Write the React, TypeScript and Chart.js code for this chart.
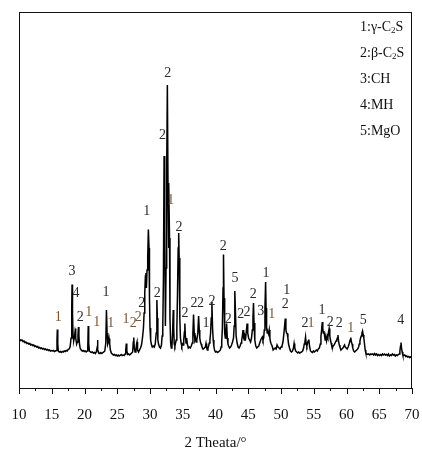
import { useEffect, useRef } from "react";
import { Chart, registerables } from "chart.js";

Chart.register(...registerables);

// 2θ (degrees) vs. intensity (arbitrary units)
const band10to14: [number, number][] = [
  [10.0, 49], [10.15, 48], [10.3, 47.5], [10.45, 48], [10.6, 46.5], [10.75, 47], [10.9, 45.5], [11.05, 46],
  [11.2, 44.5], [11.35, 45], [11.5, 44], [11.65, 44.5], [11.8, 43], [11.95, 43.5], [12.1, 42.5], [12.25, 43],
  [12.4, 41.5], [12.55, 42], [12.7, 41], [12.85, 41.5], [13.0, 40], [13.15, 40.5], [13.3, 39.5], [13.45, 40],
  [13.6, 39], [13.75, 39.5], [13.9, 38.5],
];
const band14to18: [number, number][] = [
  [14.05, 39], [14.2, 38], [14.35, 38.5], [14.5, 37.5], [14.65, 38], [14.8, 37], [14.95, 37.5], [15.1, 37],
  [15.25, 37.5], [15.4, 36.5], [15.55, 37], [15.7, 37.5], [15.8, 48], [15.85, 58.5], [15.92, 44], [16.0, 37],
  [16.15, 36], [16.3, 36.5], [16.45, 35.5], [16.6, 36.5], [16.75, 36], [16.9, 37], [17.05, 36.5], [17.2, 37.5],
  [17.35, 37], [17.5, 38.5], [17.65, 39], [17.8, 41], [17.95, 50],
];
const band18to22: [number, number][] = [
  [18.05, 80], [18.1, 103.5], [18.17, 75], [18.25, 52], [18.35, 47], [18.45, 50], [18.55, 56], [18.62, 59.5],
  [18.7, 50], [18.8, 44], [18.9, 46], [19.0, 52], [19.08, 61], [19.15, 52], [19.25, 43], [19.35, 39.5],
  [19.5, 38], [19.65, 37], [19.8, 37.5], [19.95, 36.5], [20.1, 37], [20.25, 36], [20.4, 37], [20.5, 40],
  [20.57, 62], [20.64, 45], [20.75, 37], [20.9, 36], [21.05, 35.5], [21.2, 36], [21.35, 35], [21.5, 35.5],
  [21.65, 34.5], [21.8, 36], [21.92, 40],
];
const band22to26: [number, number][] = [
  [21.98, 48], [22.05, 38], [22.2, 35], [22.35, 34.5], [22.5, 35.5], [22.65, 34.5], [22.8, 35.5], [22.95, 36],
  [23.1, 37], [23.25, 45], [23.35, 78], [23.45, 55], [23.55, 44], [23.65, 46], [23.75, 49.5], [23.85, 44],
  [23.95, 38], [24.1, 35], [24.25, 34], [24.4, 33], [24.55, 33.5], [24.7, 32.5], [24.85, 33], [25.0, 32],
  [25.15, 33], [25.3, 32], [25.45, 32.5], [25.6, 33.5], [25.75, 32.5], [25.9, 33],
];
const band26to30: [number, number][] = [
  [26.05, 32.5], [26.2, 34], [26.3, 38], [26.38, 44.5], [26.46, 37], [26.6, 33.5], [26.75, 34], [26.9, 33],
  [27.05, 34], [27.2, 35], [27.35, 36], [27.45, 46], [27.52, 50.5], [27.6, 40], [27.72, 36], [27.85, 38],
  [27.95, 44], [28.02, 46], [28.1, 38], [28.25, 36], [28.4, 38], [28.55, 40], [28.7, 43], [28.85, 50],
  [29.0, 60], [29.1, 75], [29.2, 95], [29.3, 112], [29.38, 115], [29.45, 100], [29.55, 118], [29.65, 130],
  [29.75, 158.5], [29.85, 140], [29.92, 90],
];
const band30to34: [number, number][] = [
  [30.0, 60], [30.1, 48], [30.2, 44], [30.35, 41], [30.5, 42], [30.65, 41], [30.8, 44], [30.95, 55],
  [31.05, 88], [31.12, 70], [31.2, 48], [31.3, 44], [31.45, 41], [31.6, 40], [31.75, 43], [31.85, 52],
  [31.95, 60], [32.05, 110], [32.15, 232], [32.25, 160], [32.35, 62], [32.45, 120], [32.55, 220], [32.65, 303],
  [32.75, 200], [32.82, 140], [32.9, 205], [32.98, 150], [33.05, 70], [33.15, 45], [33.25, 40], [33.35, 42],
  [33.45, 55], [33.55, 78], [33.62, 60], [33.7, 44], [33.8, 42], [33.9, 45],
];
const band34to38: [number, number][] = [
  [34.0, 48], [34.1, 60], [34.2, 95], [34.3, 140], [34.38, 155], [34.45, 130], [34.55, 70], [34.65, 50],
  [34.75, 45], [34.85, 42], [34.95, 44], [35.05, 43], [35.15, 48], [35.25, 56], [35.32, 64.5], [35.4, 52],
  [35.5, 45], [35.6, 50], [35.7, 44], [35.85, 40], [36.0, 41], [36.15, 40], [36.3, 42], [36.45, 45],
  [36.55, 55], [36.65, 73.5], [36.75, 55], [36.85, 48], [36.95, 50], [37.05, 46], [37.15, 48], [37.3, 55],
  [37.42, 72], [37.52, 58], [37.6, 50], [37.7, 46], [37.8, 44], [37.9, 42],
];
const band38to42: [number, number][] = [
  [38.0, 40], [38.15, 39], [38.3, 40], [38.45, 41], [38.55, 44.5], [38.65, 40], [38.75, 38], [38.85, 40],
  [38.95, 42], [39.05, 45], [39.15, 48], [39.25, 55], [39.35, 70], [39.45, 86], [39.55, 60], [39.65, 48],
  [39.75, 42], [39.85, 38], [40.0, 36], [40.15, 36.5], [40.3, 35.5], [40.45, 36], [40.6, 37], [40.75, 38],
  [40.85, 41], [40.95, 46], [41.05, 60], [41.15, 100], [41.22, 133.5], [41.3, 90], [41.4, 55], [41.5, 50],
  [41.6, 56], [41.7, 64.5], [41.8, 50], [41.9, 44],
];
const band42to46: [number, number][] = [
  [42.0, 42], [42.15, 40], [42.3, 41], [42.45, 43], [42.6, 46], [42.75, 50], [42.85, 62], [42.95, 97],
  [43.05, 75], [43.15, 52], [43.3, 45], [43.45, 41], [43.6, 40], [43.75, 42], [43.9, 45], [44.0, 48],
  [44.1, 52], [44.2, 58], [44.3, 50], [44.4, 48], [44.5, 52], [44.6, 50], [44.7, 56], [44.82, 64.5],
  [44.92, 55], [45.05, 50], [45.2, 48], [45.35, 46], [45.5, 50], [45.62, 58], [45.72, 70], [45.8, 85],
  [45.88, 65],
];
const band46to50: [number, number][] = [
  [46.0, 48], [46.15, 42], [46.3, 40], [46.45, 41], [46.6, 42], [46.75, 45], [46.9, 48], [47.05, 50],
  [47.15, 51], [47.25, 48], [47.35, 50], [47.45, 58], [47.55, 80], [47.65, 106], [47.72, 80], [47.8, 60],
  [47.9, 55], [48.0, 56], [48.1, 54], [48.2, 58], [48.3, 50], [48.4, 46], [48.5, 44], [48.65, 42],
  [48.8, 38], [48.95, 39], [49.1, 40], [49.25, 39], [49.4, 43], [49.55, 41], [49.7, 40], [49.85, 39],
];
const band50to54: [number, number][] = [
  [50.0, 41], [50.15, 42], [50.3, 46], [50.45, 55], [50.55, 62], [50.65, 69.5], [50.75, 58], [50.85, 55],
  [50.95, 54.5], [51.05, 50], [51.15, 44], [51.3, 40], [51.45, 37], [51.6, 36], [51.75, 37], [51.9, 40],
  [52.0, 44.5], [52.1, 40], [52.25, 37], [52.4, 36], [52.55, 35], [52.7, 36], [52.85, 35], [53.0, 35.5],
  [53.15, 36], [53.3, 37], [53.45, 40], [53.55, 44], [53.65, 46], [53.75, 51], [53.85, 44], [53.95, 42],
];
const band54to58: [number, number][] = [
  [54.05, 45], [54.15, 47], [54.25, 48.5], [54.35, 42], [54.5, 37], [54.65, 36], [54.8, 35.5], [54.95, 37],
  [55.1, 36], [55.25, 37], [55.4, 38], [55.55, 37], [55.7, 39], [55.85, 40], [56.0, 44], [56.1, 52],
  [56.2, 58], [56.3, 66], [56.38, 60], [56.45, 55], [56.55, 57], [56.65, 52], [56.75, 48], [56.85, 50],
  [56.95, 47], [57.05, 52], [57.15, 50], [57.25, 56], [57.35, 59.5], [57.45, 52], [57.55, 48], [57.65, 45],
  [57.75, 42], [57.85, 40], [57.95, 42],
];
const band58to62: [number, number][] = [
  [58.1, 43], [58.25, 45], [58.4, 47], [58.5, 48], [58.6, 50], [58.7, 53], [58.8, 46], [58.9, 43],
  [59.0, 41], [59.15, 38], [59.3, 39], [59.45, 40], [59.6, 42], [59.7, 43], [59.8, 41], [59.95, 40],
  [60.1, 39], [60.25, 41], [60.4, 44], [60.55, 48], [60.65, 50.5], [60.75, 46], [60.85, 44], [60.95, 40],
  [61.1, 37], [61.25, 36], [61.4, 37], [61.55, 38], [61.7, 39], [61.85, 41], [61.95, 44],
];
const band62to66: [number, number][] = [
  [62.05, 47], [62.15, 50], [62.25, 52], [62.35, 55], [62.45, 57], [62.55, 53], [62.65, 50], [62.75, 44],
  [62.85, 38], [62.95, 35], [63.1, 34], [63.25, 33.5], [63.4, 34], [63.55, 33], [63.7, 34], [63.85, 33.5],
  [64.0, 34], [64.15, 33], [64.3, 34.5], [64.45, 33], [64.6, 34], [64.75, 32.5], [64.9, 33.5], [65.05, 32.5],
  [65.2, 33.5], [65.35, 32.5], [65.5, 34], [65.65, 33], [65.8, 34], [65.95, 33],
];
const band66to70: [number, number][] = [
  [66.1, 33.5], [66.25, 32.5], [66.4, 34], [66.55, 32], [66.7, 33], [66.85, 32.5], [67.0, 34], [67.15, 33],
  [67.3, 33.5], [67.45, 32], [67.6, 33], [67.75, 32.5], [67.9, 33.5], [68.05, 34], [68.15, 37], [68.25, 42],
  [68.32, 45.5], [68.4, 40], [68.5, 36], [68.6, 33], [68.75, 32.5], [68.9, 33], [69.05, 31.5], [69.2, 32],
  [69.35, 31], [69.5, 31.5], [69.65, 30.5], [69.8, 31], [70.0, 30],
];

// Peak labels: [2θ, height of label centre, phase number, tone]
const peakLabels: [number, number, string, "b" | "k"][] = [
  [16.0, 71, "1", "b"], [18.09, 117, "3", "k"], [18.7, 95, "4", "k"], [19.36, 71, "2", "k"],
  [20.64, 76, "1", "b"], [21.86, 66, "1", "b"], [23.28, 96, "1", "k"], [24.0, 65, "1", "b"],
  [26.34, 69, "1", "b"], [27.46, 65, "2", "b"], [28.2, 71, "2", "b"], [28.73, 85, "2", "k"],
  [29.5, 177, "1", "k"], [31.1, 95, "2", "k"], [31.9, 253, "2", "k"], [32.7, 315, "2", "k"],
  [33.16, 188, "1", "b"], [34.43, 161, "2", "k"], [35.34, 75, "2", "k"], [36.7, 85, "2", "k"],
  [37.7, 85, "2", "k"], [38.55, 65, "1", "k"], [39.47, 87, "2", "k"], [41.2, 142, "2", "k"],
  [41.96, 69, "2", "k"], [42.98, 110, "5", "k"], [43.84, 74, "2", "k"], [44.8, 76, "2", "k"],
  [45.78, 94, "2", "k"], [46.9, 77, "3", "k"], [47.7, 115, "1", "k"], [48.57, 74, "1", "b"],
  [50.86, 98, "1", "k"], [50.66, 84, "2", "k"], [53.66, 65, "2", "k"], [54.58, 65, "1", "b"],
  [56.26, 78, "1", "k"], [57.53, 66, "2", "k"], [58.9, 65, "2", "k"], [60.64, 60, "1", "b"],
  [62.57, 68, "5", "k"], [68.27, 68, "4", "k"],
];

const legendLines: string[][] = [
  ["1:γ-C", "2", "S"],
  ["2:β-C", "2", "S"],
  ["3:CH"],
  ["4:MH"],
  ["5:MgO"],
];

const xTitle = "2 Theata/°";
const SERIF = "'Liberation Serif', 'Times New Roman', serif";

export default function App() {
  const ref = useRef<HTMLCanvasElement>(null);

  useEffect(() => {
    if (!ref.current) return;
    const pattern = [
      ...band10to14, ...band14to18, ...band18to22, ...band22to26, ...band26to30,
      ...band30to34, ...band34to38, ...band38to42, ...band42to46, ...band46to50,
      ...band50to54, ...band54to58, ...band58to62, ...band62to66, ...band66to70,
    ].map(([x, y]) => ({ x, y }));

    const decor = {
      id: "decor",
      afterDraw(chart: any) {
        const { ctx, chartArea: a, scales } = chart;
        const xs = scales.x;
        const ys = scales.y;
        ctx.save();
        ctx.strokeStyle = "#111";
        ctx.lineWidth = 1;
        ctx.strokeRect(a.left + 0.5, a.top + 0.5, a.right - a.left - 1, a.bottom - a.top);
        // ticks (major every 5, minor every 2.5)
        for (let v = 10; v <= 70.001; v += 2.5) {
          const px = Math.round(xs.getPixelForValue(v)) + 0.5;
          const len = Math.abs(v % 5) < 0.01 ? 6 : 3;
          ctx.beginPath();
          ctx.moveTo(px, a.bottom);
          ctx.lineTo(px, a.bottom + len);
          ctx.stroke();
        }
        // peak labels
        ctx.font = `14px ${SERIF}`;
        ctx.textAlign = "center";
        ctx.textBaseline = "middle";
        for (const [t, h, txt, tone] of peakLabels) {
          ctx.fillStyle = tone === "b" ? "#7a5533" : "#2a2a2a";
          ctx.fillText(txt, xs.getPixelForValue(t), ys.getPixelForValue(h));
        }
        // legend
        ctx.fillStyle = "#111";
        ctx.textAlign = "left";
        ctx.textBaseline = "middle";
        const lx = 360;
        legendLines.forEach((parts, i) => {
          const ly = 27 + i * 26;
          let cx = lx;
          ctx.font = `14px ${SERIF}`;
          ctx.fillText(parts[0], cx, ly);
          cx += ctx.measureText(parts[0]).width;
          if (parts.length > 1) {
            ctx.font = `9px ${SERIF}`;
            ctx.fillText(parts[1], cx, ly + 4);
            cx += ctx.measureText(parts[1]).width;
            ctx.font = `14px ${SERIF}`;
            ctx.fillText(parts[2], cx, ly);
          }
        });
        ctx.restore();
      },
    };

    const chart = new Chart(ref.current, {
      type: "line",
      data: {
        datasets: [
          {
            data: pattern,
            borderColor: "#000",
            borderWidth: 1.5,
            pointRadius: 0,
            tension: 0,
            fill: false,
          },
        ],
      },
      options: {
        animation: false,
        responsive: false,
        devicePixelRatio: 1,
        parsing: false as any,
        layout: { padding: { left: 19, right: 10, top: 12, bottom: 0 } },
        plugins: { legend: { display: false }, tooltip: { enabled: false } },
        scales: {
          x: {
            type: "linear",
            min: 10,
            max: 70,
            grid: { display: false, drawTicks: false },
            border: { display: false },
            afterFit(scale: any) {
              scale.paddingLeft = 0;
              scale.paddingRight = 0;
              scale.height = 62;
            },
            ticks: {
              stepSize: 5,
              autoSkip: false,
              maxRotation: 0,
              padding: 18,
              color: "#111",
              font: { family: SERIF, size: 15 },
            },
            title: {
              display: true,
              text: xTitle,
              color: "#111",
              font: { family: SERIF, size: 15 },
              padding: { top: 12, bottom: -2 },
            },
          },
          y: { display: false, min: 0, max: 376 },
        },
      },
      plugins: [decor],
    });
    return () => chart.destroy();
  }, []);

  return (
    <div style={{ position: "fixed", left: 0, top: 0, width: 422, height: 450, background: "#fff" }}>
      <canvas ref={ref} width={422} height={450} />
    </div>
  );
}
